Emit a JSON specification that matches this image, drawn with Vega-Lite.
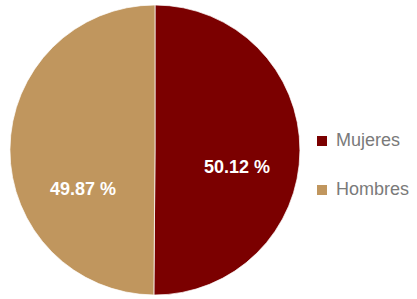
{
  "$schema": "https://vega.github.io/schema/vega-lite/v6.json",
  "width": 310,
  "height": 300,
  "padding": 0,
  "background": "white",
  "config": {"view": {"stroke": null}},
  "data": {"values": [
    {"sexo": "Mujeres", "valor": 50.12, "etiqueta": "50.12 %"},
    {"sexo": "Hombres", "valor": 49.87, "etiqueta": "49.87 %"}
  ]},
  "encoding": {
    "theta": {"field": "valor", "type": "quantitative", "stack": true},
    "order": {"field": "valor", "sort": "descending"}
  },
  "layer": [
    {
      "mark": {"type": "arc", "outerRadius": 145, "stroke": "white", "strokeWidth": 0.7},
      "encoding": {
        "color": {
          "field": "sexo", "type": "nominal",
          "scale": {"domain": ["Mujeres", "Hombres"], "range": ["#7b0000", "#c0965e"]},
          "legend": {
            "title": null, "orient": "none", "legendX": 313, "legendY": 132,
            "padding": 0, "symbolType": "square", "symbolSize": 100, "symbolStrokeWidth": 0,
            "labelFont": "Liberation Sans", "labelFontSize": 18, "labelColor": "#7a7a7a",
            "labelOffset": 5, "rowPadding": 31, "labelLimit": 200
          }
        }
      }
    },
    {
      "mark": {"type": "text", "radius": 82, "dy": 18, "font": "Liberation Sans", "fontWeight": "bold", "fontSize": 18, "fill": "white"},
      "encoding": {
        "text": {"condition": {"test": "datum.sexo === 'Mujeres'", "field": "etiqueta"}, "value": ""}
      }
    },
    {
      "mark": {"type": "text", "radius": 72, "dy": 40, "font": "Liberation Sans", "fontWeight": "bold", "fontSize": 18, "fill": "white"},
      "encoding": {
        "text": {"condition": {"test": "datum.sexo === 'Hombres'", "field": "etiqueta"}, "value": ""}
      }
    }
  ]
}
